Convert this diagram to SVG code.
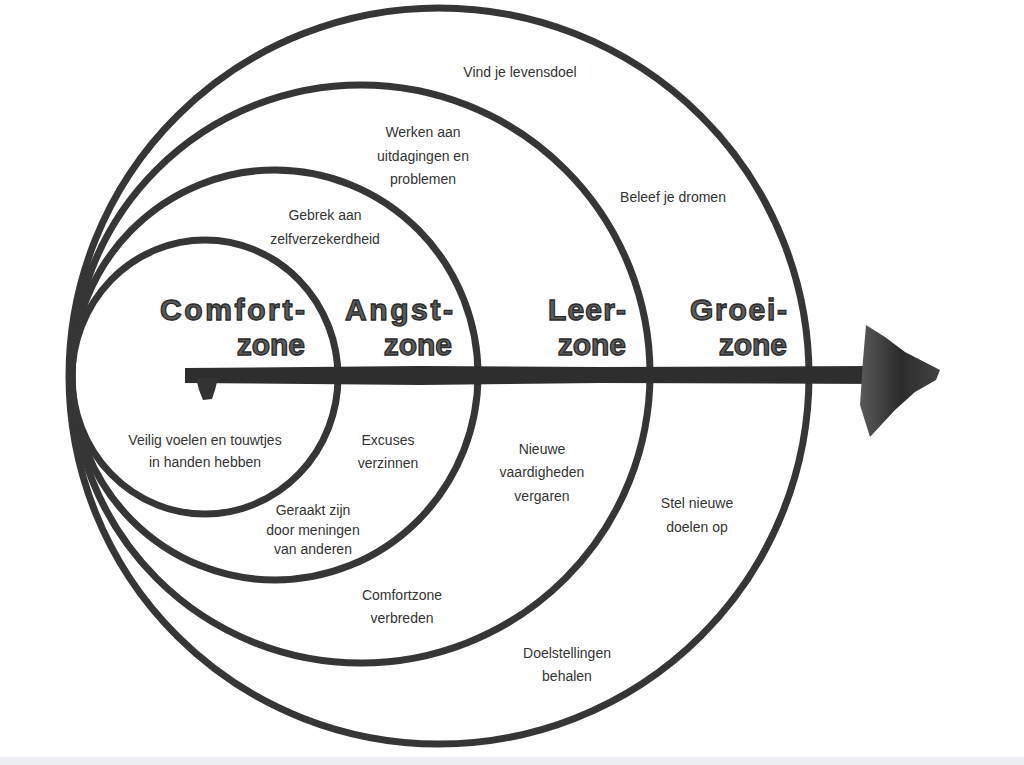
<svg xmlns="http://www.w3.org/2000/svg" width="1024" height="765" viewBox="0 0 1024 765">
<defs>
<style>
.ring{fill:none;stroke:#363636;stroke-width:7}
.lbl{font-family:"Liberation Sans",Arial,sans-serif;font-size:14px;fill:#333;text-anchor:middle}
.ttl{font-family:"Liberation Sans",Arial,sans-serif;font-size:30px;font-weight:bold;fill:#5c5c5c;stroke:#2a2a2a;stroke-width:1.3}
</style>
<linearGradient id="hg" x1="0" y1="0" x2="1" y2="0">
<stop offset="0" stop-color="#5a5a5a"/>
<stop offset="0.5" stop-color="#2c2c2c"/>
<stop offset="1" stop-color="#444"/>
</linearGradient>
</defs>
<rect width="1024" height="765" fill="#ffffff"/>
<rect x="0" y="757" width="1024" height="8" fill="#eceef1"/>
<g id="groeizone">
<ellipse class="ring" cx="439" cy="376" rx="370" ry="368"/>
</g>
<g id="leerzone">
<ellipse class="ring" cx="361" cy="374" rx="289" ry="289"/>
</g>
<g id="angstzone">
<ellipse class="ring" cx="275" cy="375" rx="203" ry="205"/>
</g>
<g id="comfortzone">
<ellipse class="ring" cx="205" cy="377" rx="133" ry="137"/>
</g>
<g id="connectors">
<path d="M185,368 L420,366 L600,367 L880,366 L880,384 L600,383 L420,385 L185,383 Z" fill="#2e2e2e"/>
<path d="M196,378 L218,378 L215,390 L212,399 L203,400 L199,390 Z" fill="#333"/>
<polygon points="866,325 885,337 905,352 940,370 936,380 915,392 895,410 870,437 860,405 863,360" fill="url(#hg)"/>
</g>
<g id="titles">
<text class="ttl" x="160" y="320" textLength="145">Comfort-</text>
<text class="ttl" x="305" y="355" text-anchor="end">zone</text>
<text class="ttl" x="345" y="320" textLength="108">Angst-</text>
<text class="ttl" x="452" y="355" text-anchor="end">zone</text>
<text class="ttl" x="548" y="320" textLength="78">Leer-</text>
<text class="ttl" x="626" y="355" text-anchor="end">zone</text>
<text class="ttl" x="690" y="320" textLength="97">Groei-</text>
<text class="ttl" x="787" y="355" text-anchor="end">zone</text>
</g>
<g id="labels">
<text class="lbl" x="520" y="77">Vind je levensdoel</text>
<text class="lbl" x="423" y="137">Werken aan</text>
<text class="lbl" x="423" y="161">uitdagingen en</text>
<text class="lbl" x="423" y="184">problemen</text>
<text class="lbl" x="673" y="202">Beleef je dromen</text>
<text class="lbl" x="325" y="220">Gebrek aan</text>
<text class="lbl" x="325" y="244">zelfverzekerdheid</text>
<text class="lbl" x="205" y="445">Veilig voelen en touwtjes</text>
<text class="lbl" x="205" y="467">in handen hebben</text>
<text class="lbl" x="388" y="445">Excuses</text>
<text class="lbl" x="388" y="468">verzinnen</text>
<text class="lbl" x="542" y="454">Nieuwe</text>
<text class="lbl" x="542" y="477">vaardigheden</text>
<text class="lbl" x="542" y="501">vergaren</text>
<text class="lbl" x="313" y="515">Geraakt zijn</text>
<text class="lbl" x="313" y="535">door meningen</text>
<text class="lbl" x="313" y="554">van anderen</text>
<text class="lbl" x="697" y="508">Stel nieuwe</text>
<text class="lbl" x="697" y="532">doelen op</text>
<text class="lbl" x="402" y="600">Comfortzone</text>
<text class="lbl" x="402" y="623">verbreden</text>
<text class="lbl" x="567" y="658">Doelstellingen</text>
<text class="lbl" x="567" y="681">behalen</text>
</g>
</svg>
